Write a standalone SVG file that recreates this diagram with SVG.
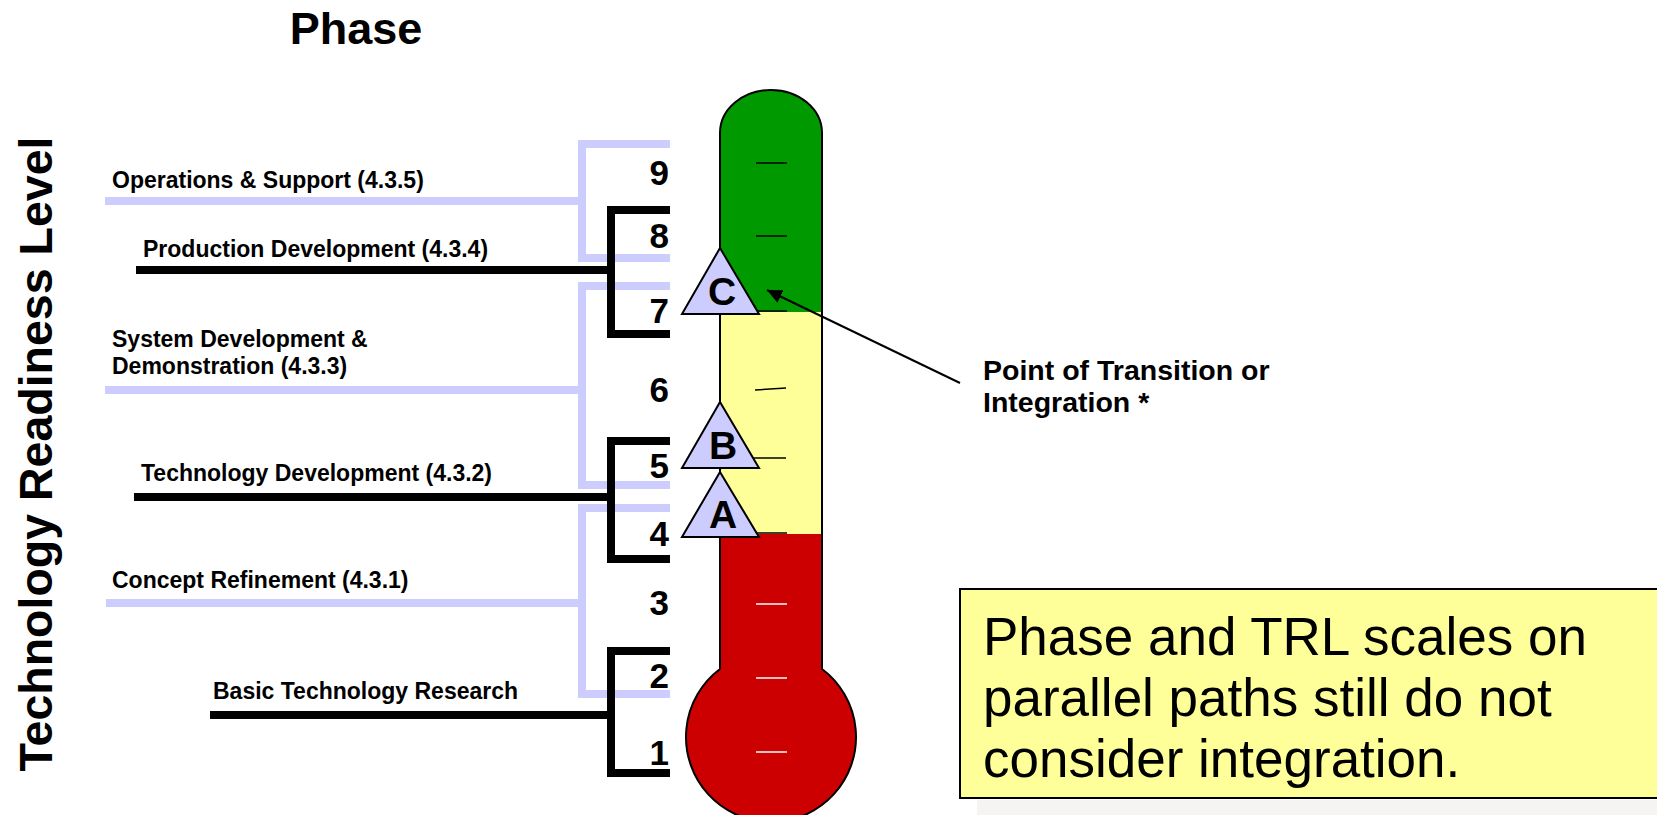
<svg xmlns="http://www.w3.org/2000/svg" width="1657" height="815" viewBox="0 0 1657 815">
<style>
  .f { font-family: "Liberation Sans", Arial, sans-serif; }
  .b { font-weight: bold; }
  .lbl { font-family: "Liberation Sans", Arial, sans-serif; font-weight: bold; font-size: 23px; fill: #000; }
  .num { font-family: "Liberation Sans", Arial, sans-serif; font-weight: bold; font-size: 35px; fill: #000; text-anchor: end; }
  .blue { fill: none; stroke: #ccccff; stroke-width: 8; stroke-linejoin: miter; }
  .blk { fill: none; stroke: #000; stroke-width: 8; stroke-linejoin: miter; }
  .tri { fill: #ccccff; stroke: #000; stroke-width: 2; stroke-linejoin: miter; }
  .trit { font-family: "Liberation Sans", Arial, sans-serif; font-weight: bold; font-size: 39px; fill: #000; text-anchor: middle; }
  .tick { stroke: #000; stroke-width: 1.5; }
  .wtick { stroke: #fff; stroke-width: 1.5; }
</style>
<defs>
  <marker id="arrow" markerUnits="userSpaceOnUse" markerWidth="16" markerHeight="14" refX="15" refY="7" orient="auto">
    <path d="M0,0 L15,7 L0,14 Z" fill="#000"/>
  </marker>
</defs>
<rect width="1657" height="815" fill="#fff"/>

<g id="title-phase">
  <text class="f b" x="356" y="44" font-size="45" text-anchor="middle">Phase</text>
</g>
<g id="title-trl">
  <text class="f b" font-size="46.5" text-anchor="middle" transform="translate(52,454) rotate(-90)">Technology Readiness Level</text>
</g>

<g id="phase-operations">
  <path class="blue" d="M670,144 H582 V258 H670"/>
  <path class="blue" d="M105,201 H582"/>
  <text class="lbl" x="112" y="188">Operations &amp; Support (4.3.5)</text>
</g>
<g id="phase-sysdev">
  <path class="blue" d="M670,286 H582 V485 H670"/>
  <path class="blue" d="M105,390 H582"/>
  <text class="lbl" x="112" y="347">System Development &amp;</text>
  <text class="lbl" x="112" y="374">Demonstration (4.3.3)</text>
</g>
<g id="phase-concept">
  <path class="blue" d="M670,508 H582 V694 H670"/>
  <path class="blue" d="M106,603 H582"/>
  <text class="lbl" x="112" y="588">Concept Refinement (4.3.1)</text>
</g>
<g id="phase-production">
  <path class="blk" d="M670,210 H611 V334 H670"/>
  <path class="blk" d="M136,270 H611"/>
  <text class="lbl" x="143" y="257">Production Development (4.3.4)</text>
</g>
<g id="phase-techdev">
  <path class="blk" d="M670,441 H611 V559 H670"/>
  <path class="blk" d="M134,497 H611"/>
  <text class="lbl" x="141" y="481">Technology Development (4.3.2)</text>
</g>
<g id="phase-basic">
  <path class="blk" d="M670,651 H611 V773 H670"/>
  <path class="blk" d="M210,715 H611"/>
  <text class="lbl" x="213" y="699">Basic Technology Research</text>
</g>

<g id="trl-numbers">
  <text class="num" x="669" y="185">9</text>
  <text class="num" x="669" y="248">8</text>
  <text class="num" x="669" y="323">7</text>
  <text class="num" x="669" y="402">6</text>
  <text class="num" x="669" y="478">5</text>
  <text class="num" x="669" y="546">4</text>
  <text class="num" x="669" y="615">3</text>
  <text class="num" x="669" y="688">2</text>
  <text class="num" x="669" y="765">1</text>
</g>

<g id="thermometer">
  <path d="M720,133 A51,43 0 0 1 822,133 L822,312 L720,312 Z" fill="#009900"/>
  <rect x="720" y="312" width="102" height="222" fill="#ffff99"/>
  <rect x="720" y="534" width="102" height="150" fill="#cc0000"/>
  <circle cx="771" cy="737" r="85" fill="#cc0000"/>
  <path d="M720,669 L720,133 A51,43 0 0 1 822,133 L822,669 A85,85 0 1 1 720,669" fill="none" stroke="#000" stroke-width="2"/>
  <line class="tick" x1="756" y1="163" x2="787" y2="163"/>
  <line class="tick" x1="756" y1="236" x2="787" y2="236"/>
  <line class="tick" x1="757" y1="311" x2="787" y2="311"/>
  <line class="tick" x1="755" y1="390" x2="786" y2="388"/>
  <line class="tick" x1="753" y1="458" x2="786" y2="458"/>
  <line class="tick" x1="757" y1="533" x2="787" y2="533"/>
  <line class="wtick" x1="756" y1="604" x2="787" y2="604"/>
  <line class="wtick" x1="756" y1="678" x2="787" y2="678"/>
  <line class="wtick" x1="756" y1="752" x2="787" y2="752"/>
</g>

<g id="milestone-C">
  <path class="tri" d="M720,248 L759,314 L682,314 Z"/>
  <text class="trit" x="722" y="305">C</text>
</g>
<g id="milestone-B">
  <path class="tri" d="M720,402 L759,468 L682,468 Z"/>
  <text class="trit" x="723" y="459">B</text>
</g>
<g id="milestone-A">
  <path class="tri" d="M720,472 L759,537 L682,537 Z"/>
  <text class="trit" x="723" y="528">A</text>
</g>

<g id="transition-label">
  <text class="f b" font-size="28.5" x="983" y="380">Point of Transition or</text>
  <text class="f b" font-size="28.5" x="983" y="412">Integration *</text>
</g>

<g id="note">
  <rect x="977" y="800" width="690" height="20" fill="#f5f4f2"/>
  <rect x="960" y="589" width="710" height="209" fill="#ffff99" stroke="#000" stroke-width="2"/>
  <text class="f" font-size="53" x="983" y="655">Phase and TRL scales on</text>
  <text class="f" font-size="53" x="983" y="716">parallel paths still do not</text>
  <text class="f" font-size="53" x="983" y="777">consider integration.</text>
</g>

<g id="connectors">
  <line x1="960" y1="383" x2="767" y2="290" stroke="#000" stroke-width="2" marker-end="url(#arrow)"/>
</g>
</svg>
